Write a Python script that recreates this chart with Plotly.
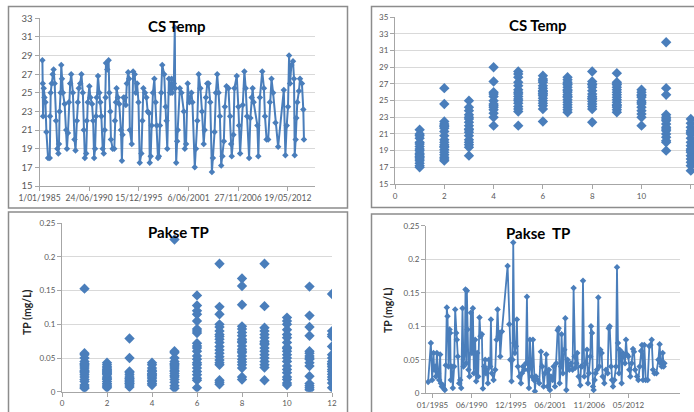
import plotly.graph_objects as go
import pandas as pd

# ---------------- data ----------------
cs_dates = [
    "1985-04-28", "1985-05-12", "1985-05-25", "1985-06-20", "1985-07-18", "1985-08-28", "1985-10-06", "1985-12-12",
    "1986-02-18", "1986-03-01", "1986-03-28", "1986-05-06", "1986-06-15", "1986-07-25", "1986-09-03", "1986-10-28", "1986-12-21",
    "1987-02-01", "1987-02-25", "1987-03-22", "1987-05-01", "1987-05-28", "1987-06-25", "1987-08-03", "1987-10-10", "1987-12-15",
    "1988-01-12", "1988-02-20", "1988-04-01", "1988-05-22", "1988-07-01", "1988-09-06", "1988-11-12", "1988-12-22",
    "1989-02-15", "1989-03-25", "1989-05-04", "1989-06-27", "1989-08-18", "1989-10-12", "1989-11-21",
    "1990-01-01", "1990-02-24", "1990-03-18", "1990-04-28", "1990-07-03", "1990-08-15", "1990-10-18", "1990-12-01",
    "1991-01-10", "1991-02-18", "1991-03-28", "1991-04-24", "1991-06-15", "1991-08-09", "1991-09-18", "1991-10-28", "1991-12-21",
    "1992-02-01", "1992-03-10", "1992-04-18", "1992-05-01", "1992-06-25", "1992-08-16", "1992-09-12", "1992-10-22", "1992-11-18",
    "1993-01-25", "1993-04-01", "1993-04-28", "1993-06-06", "1993-07-03", "1993-08-27", "1993-10-18", "1993-12-25",
    "1994-02-03", "1994-03-01", "1994-04-10", "1994-06-12", "1994-07-10", "1994-08-18", "1994-10-12", "1994-11-21", "1994-12-18",
    "1995-03-06", "1995-05-01", "1995-07-03", "1995-08-15", "1995-10-06", "1995-12-01",
    "1996-01-22", "1996-03-28", "1996-05-06", "1996-06-15", "1996-08-21", "1996-10-15", "1996-12-06",
    "1997-02-01", "1997-02-28", "1997-04-06", "1997-05-15", "1997-07-06", "1997-09-01", "1997-10-22", "1997-12-03",
    "1998-01-25", "1998-03-03", "1998-04-12", "1998-06-06", "1998-07-15", "1998-10-03", "1998-11-28",
    "1999-01-06", "1999-02-03", "1999-04-10", "1999-06-01", "1999-07-25", "1999-08-18", "1999-10-25", "1999-12-03", "1999-12-18",
    "2000-01-28", "2000-03-06", "2000-04-03", "2000-06-22", "2000-08-28", "2000-12-01",
    "2001-01-10", "2001-03-01", "2001-05-06", "2001-07-12", "2001-10-03", "2001-11-12",
    "2002-02-15", "2002-04-06", "2002-05-28", "2002-07-22", "2002-09-28", "2002-12-03",
    "2003-02-10", "2003-03-18", "2003-05-10", "2003-07-03", "2003-08-25", "2003-11-01",
    "2004-01-06", "2004-02-15", "2004-04-22", "2004-06-15", "2004-08-06", "2004-10-01", "2004-11-22",
    "2005-01-15", "2005-03-06", "2005-05-01", "2005-06-10", "2005-08-15", "2005-11-03",
    "2006-01-10", "2006-02-18", "2006-03-15", "2006-05-22", "2006-07-01", "2006-10-03", "2006-12-06",
    "2007-01-03", "2007-02-15", "2007-06-01", "2007-08-06", "2007-09-28", "2007-11-22",
    "2008-02-12", "2008-04-03", "2008-05-25", "2008-07-03", "2008-08-12",
    "2009-01-10", "2009-02-18", "2009-04-22", "2009-07-25", "2009-10-01", "2009-11-12",
    "2010-01-15", "2010-03-22", "2010-05-28", "2010-08-03", "2010-10-06",
    "2011-01-10", "2011-04-25", "2011-12-10",
    "2012-02-12", "2012-04-06", "2012-05-28", "2012-07-10", "2012-08-18", "2012-10-10", "2012-12-15",
    "2013-01-25", "2013-02-22", "2013-04-01", "2013-04-28", "2013-06-06", "2013-08-12", "2013-09-22", "2013-12-10",
    "2014-02-03", "2014-03-01",
]
cs_temp = [
    28.5, 26, 22.5, 25.5, 24.5, 24, 20.8, 18,
    18, 22.5, 25, 26, 27, 27.5, 26, 22, 19,
    18.5, 19.5, 23, 25, 28, 26.5, 25, 23.8, 21,
    19, 20.7, 24, 26, 27, 25, 20, 18.8,
    22, 24, 25.5, 26, 27, 25, 21,
    18, 18.5, 22, 24, 25.7, 24.5, 23.8, 22,
    18, 19, 22.5, 24.5, 26.8, 25, 24, 22.5, 19,
    18.5, 21, 24.5, 28.2, 27.5, 28.5, 25, 23, 20,
    19, 19, 22, 24, 25.5, 24.5, 23.8, 21,
    17.7, 20.5, 24.5, 24.5, 23.7, 26, 27.2, 26.5, 21,
    19.5, 27.3, 27, 25, 26, 24,
    17.5, 18.5, 22, 25.5, 25, 24.5, 23,
    22.8, 17.5, 18.2, 21.5, 25, 26.5, 24, 21.5,
    18, 18.2, 21.5, 25, 28, 27, 23.5,
    22, 19, 26.5, 25, 26.5, 25, 26, 32, 25.5,
    17.5, 19.8, 21, 25.5, 25, 23,
    19, 19.5, 26, 24, 25, 24,
    17, 19, 22, 27, 25.5, 23,
    19.5, 21, 24.5, 26, 26, 24,
    16.5, 18, 20.8, 25, 27, 25, 22.5,
    17.2, 18.2, 19.8, 23.5, 25.7, 25.5,
    22.5, 19.5, 18.2, 20.5, 25.5, 26.8, 23.5,
    21.5, 18.5, 23.7, 27.3, 25.5, 22.5,
    18, 22.3, 24.5, 25.5, 24,
    21.5, 18.2, 24.5, 27.3, 25.5, 22.5,
    20, 20, 24, 26.5, 25,
    21.8, 19.2, 25.3,
    18.3, 21.5, 23.5, 29, 26, 28, 28.4,
    26.5, 18.3, 20, 22.3, 24, 25.2, 26.5, 26,
    23.2, 20,
]

months = [1, 2, 3, 4, 5, 6, 7, 8, 9, 10, 11, 12]
cs_temp_by_month = [
    [21.5, 21, 20.5, 20, 19.5, 19.2, 19, 18.7, 18.5, 18.3, 18, 17.8, 17.5, 17.2, 17, 18.2, 19.8, 20.8],
    [26.5, 24.6, 22.5, 22.2, 22, 21.7, 21.3, 20.8, 20.3, 20, 19.7, 19.4, 19.1, 18.8, 18.5, 18.2, 18, 17.8, 21.9, 19.5],
    [25, 24.2, 23.8, 23.3, 22.8, 22.4, 22, 21.6, 21.2, 20.8, 20.3, 20, 19.7, 19.4, 18.4, 23, 21.5],
    [29, 27.3, 26, 25.5, 25, 24.6, 24.2, 23.9, 23.5, 23, 22, 24.4, 25.8],
    [28.5, 28.2, 27.8, 26.8, 26.3, 26, 25.5, 25.2, 25, 24.7, 24.3, 24, 23.7, 22, 27.2, 25.8],
    [28, 27.6, 27.2, 26.8, 26.5, 26.2, 25.9, 25.6, 25.3, 25, 24.7, 24.4, 24, 22.5, 27.4, 26.1, 25.8],
    [27.8, 27.5, 27.2, 26.9, 26.6, 26.3, 26, 25.7, 25.4, 25.1, 24.8, 24.5, 24.2, 23.9, 23.6, 27, 26.2, 25.5],
    [28.5, 27.3, 27, 26.6, 26.2, 25.8, 25.5, 25.2, 24.9, 24.6, 24.3, 24, 22.4, 26.9, 25.3],
    [28.3, 27.2, 26.9, 26.6, 26.3, 26, 25.7, 25.4, 25.1, 24.8, 24.5, 24.2, 23.9, 23.6, 27, 24.4],
    [26.3, 26, 25.7, 25.4, 25, 24.6, 24.2, 23.8, 23.4, 23, 22, 24.8, 25.6],
    [32, 26.5, 25.7, 23.3, 23, 22.6, 22.2, 21.8, 21.4, 21, 20.6, 20.2, 20, 19, 22.8, 21.6],
    [22.8, 22.3, 21.8, 21.4, 21, 20.5, 20, 19.6, 19.2, 18.8, 18.4, 18, 17.6, 17.2, 16.6, 21.2, 19],
]

tp_by_month = [
    [0.153, 0.057, 0.055, 0.05, 0.045, 0.042, 0.038, 0.035, 0.032, 0.03, 0.028, 0.025, 0.022, 0.018, 0.015, 0.01, 0.007, 0.005, 0.04],
    [0.043, 0.04, 0.037, 0.035, 0.032, 0.03, 0.028, 0.025, 0.022, 0.02, 0.018, 0.015, 0.012, 0.01, 0.008, 0.006, 0.027, 0.033],
    [0.079, 0.05, 0.03, 0.028, 0.025, 0.022, 0.019, 0.017, 0.015, 0.012, 0.01, 0.007, 0.02, 0.013],
    [0.043, 0.04, 0.035, 0.032, 0.03, 0.027, 0.024, 0.022, 0.02, 0.017, 0.015, 0.012, 0.01, 0.026],
    [0.226, 0.06, 0.058, 0.05, 0.045, 0.042, 0.038, 0.035, 0.032, 0.03, 0.027, 0.024, 0.022, 0.018, 0.014, 0.009, 0.005, 0.04],
    [0.143, 0.128, 0.12, 0.115, 0.105, 0.093, 0.09, 0.087, 0.072, 0.068, 0.065, 0.053, 0.048, 0.043, 0.04, 0.035, 0.03, 0.025, 0.02, 0.017, 0.006, 0.06],
    [0.19, 0.126, 0.115, 0.1, 0.096, 0.09, 0.085, 0.078, 0.073, 0.067, 0.062, 0.057, 0.052, 0.047, 0.043, 0.04, 0.017, 0.014, 0.011, 0.082],
    [0.168, 0.157, 0.129, 0.097, 0.093, 0.088, 0.083, 0.078, 0.073, 0.068, 0.063, 0.058, 0.053, 0.048, 0.044, 0.04, 0.035, 0.022, 0.018, 0.075, 0.06],
    [0.19, 0.127, 0.095, 0.09, 0.085, 0.08, 0.075, 0.07, 0.065, 0.06, 0.055, 0.05, 0.045, 0.04, 0.036, 0.017, 0.072],
    [0.11, 0.105, 0.1, 0.092, 0.085, 0.08, 0.073, 0.066, 0.06, 0.055, 0.05, 0.045, 0.038, 0.033, 0.028, 0.022, 0.018, 0.013, 0.01, 0.064],
    [0.156, 0.113, 0.096, 0.083, 0.06, 0.057, 0.053, 0.048, 0.043, 0.038, 0.023, 0.012, 0.009, 0.006, 0.003, 0.05],
    [0.145, 0.09, 0.085, 0.082, 0.067, 0.055, 0.05, 0.045, 0.04, 0.037, 0.033, 0.03, 0.026, 0.022, 0.018, 0.013, 0.006, 0.042],
]

tp_years = [
    1984.39, 1984.77, 1984.95, 1985.14, 1985.23, 1985.37, 1985.47, 1985.61, 1985.79, 1985.93,
    1986.07, 1986.17, 1986.30, 1986.44, 1986.58, 1986.72, 1986.86, 1987.00, 1987.10, 1987.24,
    1987.38, 1987.47, 1987.56, 1987.70, 1987.84, 1988.03, 1988.17, 1988.31, 1988.40, 1988.54,
    1988.73, 1988.87, 1989.01, 1989.19, 1989.33, 1989.52, 1989.61, 1989.71, 1989.80, 1989.89,
    1990.03, 1990.17, 1990.36, 1990.50, 1990.64, 1990.78, 1990.96, 1991.10, 1991.24, 1991.38,
    1991.57, 1991.71, 1991.90, 1992.04, 1992.22, 1992.36, 1992.46, 1992.60, 1992.74, 1992.88,
    1993.06, 1993.16, 1993.29, 1993.53, 1993.76, 1993.95, 1994.09, 1994.23, 1994.37, 1994.46,
    1994.69, 1995.49, 1995.72, 1995.86, 1996.04, 1996.18, 1996.28, 1996.42, 1996.51, 1996.65,
    1996.79, 1996.93, 1997.12, 1997.35, 1997.49, 1997.63, 1997.82, 1998.05, 1998.19, 1998.33,
    1998.47, 1998.61, 1998.75, 1998.89, 1999.03, 1999.17, 1999.31, 1999.45, 1999.68, 1999.91,
    2000.15, 2000.33, 2000.52, 2000.70, 2000.89, 2001.08, 2001.26, 2001.40, 2001.54, 2001.78,
    2001.92, 2002.10, 2002.29, 2002.48, 2002.62, 2002.76, 2002.94, 2003.03, 2003.22, 2003.41,
    2003.55, 2003.69, 2003.87, 2004.11, 2004.34, 2004.57, 2004.71, 2004.85, 2004.95, 2005.09,
    2005.22, 2005.41, 2005.64, 2005.74, 2005.88, 2006.02, 2006.20, 2006.39, 2006.58, 2006.72,
    2006.86, 2007.04, 2007.14, 2007.28, 2007.42, 2007.51, 2007.65, 2007.79, 2007.97, 2008.16,
    2008.30, 2008.44, 2008.63, 2008.77, 2009.00, 2009.23, 2009.47, 2009.61, 2009.75, 2009.93,
    2010.07, 2010.21, 2010.40, 2010.63, 2010.77, 2010.91, 2011.05, 2011.14, 2011.33, 2011.42,
    2011.56, 2011.70, 2011.89, 2012.03, 2012.17, 2012.35, 2012.49, 2012.63, 2012.82, 2013.01,
    2013.15, 2013.29, 2013.57, 2013.75, 2013.94, 2014.13, 2014.26, 2014.40, 2014.59, 2014.78,
    2015.06, 2015.29, 2015.43, 2015.62, 2015.80, 2015.99, 2016.27, 2016.55, 2016.73, 2016.87,
    2017.01, 2017.15, 2017.29, 2017.39,
]
tp_values = [
    0.017, 0.075, 0.020, 0.060, 0.035, 0.040, 0.025, 0.060, 0.030, 0.020,
    0.058, 0.015, 0.010, 0.012, 0.007, 0.005, 0.042, 0.128, 0.115, 0.040,
    0.095, 0.090, 0.020, 0.040, 0.008, 0.040, 0.125, 0.090, 0.080, 0.055,
    0.015, 0.020, 0.008, 0.127, 0.040, 0.065, 0.155, 0.045, 0.153, 0.095,
    0.035, 0.025, 0.120, 0.060, 0.127, 0.030, 0.080, 0.018, 0.060, 0.025,
    0.113, 0.085, 0.088, 0.007, 0.040, 0.050, 0.030, 0.035, 0.015, 0.050,
    0.040, 0.110, 0.030, 0.020, 0.035, 0.080, 0.125, 0.085, 0.090, 0.055,
    0.092, 0.190, 0.103, 0.050, 0.018, 0.050, 0.225, 0.075, 0.060, 0.070,
    0.110, 0.040, 0.025, 0.015, 0.030, 0.040, 0.035, 0.045, 0.144, 0.035,
    0.008, 0.080, 0.040, 0.025, 0.080, 0.020, 0.003, 0.025, 0.020, 0.015,
    0.062, 0.040, 0.010, 0.030, 0.058, 0.010, 0.035, 0.005, 0.025, 0.020,
    0.040, 0.010, 0.045, 0.094, 0.097, 0.015, 0.040, 0.088, 0.030, 0.065,
    0.112, 0.005, 0.050, 0.035, 0.045, 0.035, 0.157, 0.055, 0.038, 0.045,
    0.060, 0.025, 0.012, 0.040, 0.040, 0.168, 0.025, 0.045, 0.065, 0.015,
    0.030, 0.055, 0.100, 0.090, 0.010, 0.005, 0.020, 0.030, 0.035, 0.143,
    0.040, 0.065, 0.060, 0.025, 0.015, 0.035, 0.030, 0.097, 0.100, 0.040,
    0.020, 0.010, 0.020, 0.040, 0.188, 0.075, 0.030, 0.065, 0.055, 0.015,
    0.060, 0.058, 0.045, 0.080, 0.058, 0.055, 0.035, 0.025, 0.045, 0.066,
    0.062, 0.035, 0.025, 0.020, 0.040, 0.063, 0.072, 0.020, 0.072, 0.020,
    0.020, 0.070, 0.072, 0.080, 0.035, 0.030, 0.030, 0.050, 0.073, 0.045,
    0.040, 0.060, 0.040, 0.045,
]

cs_tick_dates = ["1985-01-01", "1990-06-24", "1995-12-15", "2001-06-06", "2006-11-27", "2012-05-19"]
cs_tick_text = ["1/01/1985", "24/06/1990", "15/12/1995", "6/06/2001", "27/11/2006", "19/05/2012"]
tp_tick_text = ["01/1985", "06/1990", "12/1995", "06/2001", "11/2006", "05/2012"]


def decyear(y):
    yr = int(y)
    return pd.Timestamp(year=yr, month=1, day=1) + pd.Timedelta(days=(y - yr) * 365.25)


tp_dates = [decyear(y) for y in tp_years]

cs_mx, cs_my = [], []
for m, vals in zip(months, cs_temp_by_month):
    cs_mx += [m] * len(vals)
    cs_my += vals
tp_mx, tp_my = [], []
for m, vals in zip(months, tp_by_month):
    tp_mx += [m] * len(vals)
    tp_my += vals

# ---------------- figure ----------------
W, H = 694, 412
BLUE = "#4A7EBB"
FONT = "Lato"
TICKC = "#595959"


def px_x(p):
    return p / W


def px_y(p):
    return 1 - p / H


fig = go.Figure()

fig.add_trace(go.Scatter(x=cs_dates, y=cs_temp, mode="lines+markers",
                         line=dict(color=BLUE, width=2),
                         marker=dict(symbol="diamond", size=5, color=BLUE),
                         xaxis="x", yaxis="y", showlegend=False))
fig.add_trace(go.Scatter(x=cs_mx, y=cs_my, mode="markers",
                         marker=dict(symbol="diamond", size=8, color=BLUE),
                         xaxis="x2", yaxis="y2", showlegend=False))
fig.add_trace(go.Scatter(x=tp_mx, y=tp_my, mode="markers",
                         marker=dict(symbol="diamond", size=8, color=BLUE),
                         xaxis="x3", yaxis="y3", showlegend=False))
fig.add_trace(go.Scatter(x=tp_dates, y=tp_values, mode="lines+markers",
                         line=dict(color=BLUE, width=1.8),
                         marker=dict(symbol="diamond", size=5, color=BLUE),
                         xaxis="x4", yaxis="y4", showlegend=False))

axis_common = dict(showline=True, linecolor="#a6a6a6", linewidth=1, ticks="outside",
                   tickcolor="#a6a6a6", ticklen=4, zeroline=False, tickangle=0, automargin=False)
ygrid = dict(showgrid=True, gridcolor="#d9d9d9", gridwidth=1)

fig.update_layout(
    template="none",
    width=W, height=H, margin=dict(l=0, r=0, t=0, b=0, pad=0), autosize=False,
    paper_bgcolor="white", plot_bgcolor="white",
    font=dict(family=FONT, color=TICKC),
    xaxis=dict(domain=[px_x(39.5), px_x(315)], anchor="y", type="date",
               range=["1985-01-01", "2015-05-20"], tickvals=cs_tick_dates, ticktext=cs_tick_text,
               showgrid=False, tickfont=dict(size=8.5, color=TICKC), **axis_common),
    yaxis=dict(domain=[px_y(186), px_y(18.3)], anchor="x", range=[15, 33], tick0=15, dtick=2,
               tickfont=dict(size=9.5, color=TICKC), **ygrid, **axis_common),
    xaxis2=dict(domain=[px_x(395), 1.0], anchor="y2", range=[0, 12.13], tick0=0, dtick=2,
                showgrid=False, tickfont=dict(size=8, color=TICKC), **axis_common),
    yaxis2=dict(domain=[px_y(184), px_y(17.3)], anchor="x2", range=[15, 35], tick0=15, dtick=2,
                tickfont=dict(size=8, color=TICKC), **ygrid, **axis_common),
    xaxis3=dict(domain=[px_x(62), px_x(332)], anchor="y3", range=[0, 12], tick0=0, dtick=2,
                showgrid=False, tickfont=dict(size=8, color=TICKC), **axis_common),
    yaxis3=dict(domain=[px_y(391.7), px_y(223.3)], anchor="x3", range=[0, 0.25], tick0=0, dtick=0.05,
                tickfont=dict(size=8, color=TICKC), **ygrid, **axis_common),
    xaxis4=dict(domain=[px_x(426), px_x(680)], anchor="y4", type="date",
                range=["1984-02-04", "2019-07-29"], tickvals=cs_tick_dates, ticktext=tp_tick_text,
                showgrid=False, tickfont=dict(size=8, color=TICKC), **axis_common),
    yaxis4=dict(domain=[px_y(393.3), px_y(225.7)], anchor="x4", range=[0, 0.25], tick0=0, dtick=0.05,
                tickfont=dict(size=8, color=TICKC), **ygrid, **axis_common),
)

# panel borders
boxes = [(8.5, 6.5, 347.5, 208), (371.5, 6.5, 720, 207.5), (8.5, 212, 347.5, 430), (371.5, 214, 720, 430)]
for x0, y0, x1, y1 in boxes:
    fig.add_shape(type="rect", xref="paper", yref="paper",
                  x0=px_x(x0), x1=px_x(x1), y0=px_y(y1), y1=px_y(y0),
                  line=dict(color="#8c8c8c", width=1.5), fillcolor="rgba(0,0,0,0)", layer="above")

titles = [("CS Temp", 177, 26), ("CS Temp", 538, 25), ("Pakse TP", 178, 232), ("Pakse  TP", 538, 233)]
for txt, cx, cy in titles:
    fig.add_annotation(text="<b>%s</b>" % txt, xref="paper", yref="paper", x=px_x(cx), y=px_y(cy),
                       showarrow=False, xanchor="center", yanchor="middle",
                       font=dict(family=FONT, size=15, color="black"))

for cx, cy in [(27, 312), (388, 310)]:
    fig.add_annotation(text="<b>TP (mg/L)</b>", xref="paper", yref="paper", x=px_x(cx), y=px_y(cy),
                       showarrow=False, textangle=-90, xanchor="center", yanchor="middle",
                       font=dict(family=FONT, size=10.5, color="#262626"))

fig.write_html(
    "out.html",
    config={"displayModeBar": False},
    post_script=("document.body.style.margin='0px';document.body.style.padding='0px';"
                 "document.body.style.overflow='hidden';"
                 "document.documentElement.style.overflow='hidden';"),
)
